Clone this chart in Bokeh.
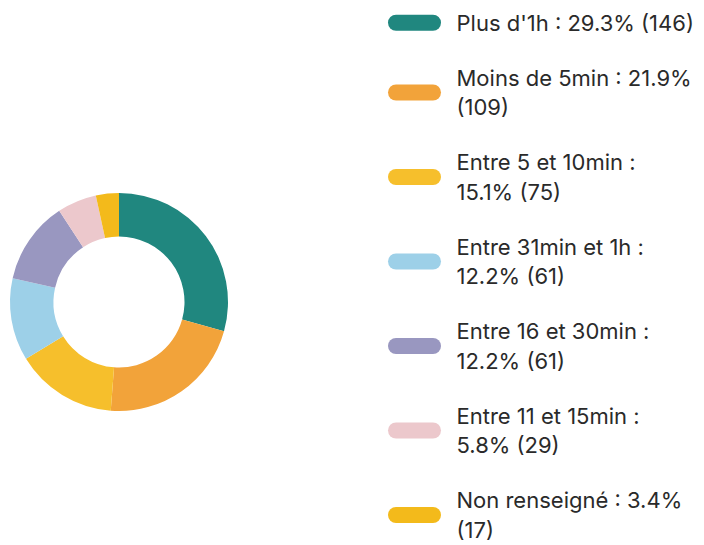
import math
from bokeh.plotting import figure
from bokeh.models import Range1d, ColumnDataSource
from bokeh.core.properties import value
from bokeh.embed import file_html
from bokeh.resources import INLINE

categories = ["Plus d'1h", "Moins de 5min", "Entre 5 et 10min", "Entre 31min et 1h",
              "Entre 16 et 30min", "Entre 11 et 15min", "Non renseigné"]
counts = [146, 109, 75, 61, 61, 29, 17]
colors = ["#20877f", "#f2a33a", "#f6bf2c", "#9dd0e8", "#9997c0", "#ecc8cc", "#f3ba1b"]

W, H = 704, 545
total = sum(counts)

p = figure(width=W, height=H, output_backend="svg", toolbar_location=None,
           x_range=Range1d(0, W), y_range=Range1d(0, H),
           x_axis_location=None, y_axis_location=None, min_border=0)
p.grid.visible = False
p.outline_line_color = None
p.background_fill_color = "white"
p.border_fill_color = "white"

# donut
starts, ends = [], []
cum = 0
for c in counts:
    starts.append(math.pi / 2 - 2 * math.pi * cum / total)
    cum += c
    ends.append(math.pi / 2 - 2 * math.pi * cum / total)
src = ColumnDataSource(dict(start=starts, end=ends, color=colors))
cx, cy = 118.5, H - 301.5
p.annular_wedge(x=cx, y=cy, inner_radius=65.5, outer_radius=109,
                inner_radius_units="screen", outer_radius_units="screen",
                start_angle="start", end_angle="end", direction="clock",
                fill_color="color", line_color=None, source=src)

# legend
def wrap(s, maxc=23):
    words = s.split(" ")
    lines, cur = [], ""
    for w in words:
        t = (cur + " " + w) if cur else w
        if len(t) > maxc and cur:
            lines.append(cur)
            cur = w
        else:
            cur = t
    lines.append(cur)
    return lines

line_h, gap, top = 29.5, 25.5, 7.5
sw_x0, sw_x1 = 395.5, 432.5
tx = 456
tx_list, ty_list, tt_list = [], [], []
sx0, sx1, sy, scol = [], [], [], []
for cat, n, col in zip(categories, counts, colors):
    pct = 100 * n / total
    label = f"{cat} : {pct:.1f}% ({n})"
    lines = wrap(label)
    h = line_h * len(lines)
    center = top + h / 2
    sx0.append(sw_x0); sx1.append(sw_x1); sy.append(H - center); scol.append(col)
    for i, ln in enumerate(lines):
        ly = top + line_h * i + line_h / 2
        tx_list.append(tx); ty_list.append(H - ly); tt_list.append(ln)
    top += h + gap

p.segment(x0=sx0, y0=sy, x1=sx1, y1=sy, line_color=scol, line_width=16, line_cap="round")
p.text(x=tx_list, y=ty_list, text=tt_list, text_font=value("Inter"),
       text_font_size="22px", text_baseline="middle", text_align="left",
       text_color="#2a2a2a")

open("out.html", "w").write(file_html(p, INLINE))
